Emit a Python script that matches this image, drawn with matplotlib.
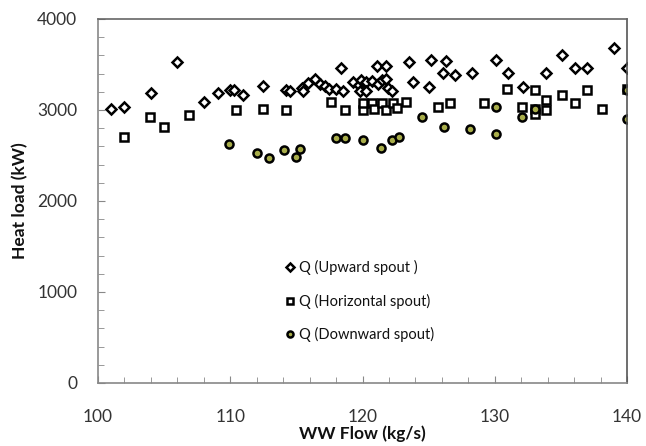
import matplotlib
matplotlib.use('Agg')
import matplotlib.pyplot as plt
from matplotlib.ticker import MultipleLocator

plt.rcParams['font.family'] = ['Lato', 'DejaVu Sans']

# Q (Upward spout)
up_x = [101.0, 102.0, 104.0, 106.0, 108.0, 109.1, 110.0, 110.3, 111.0, 112.5,
        114.2, 114.5, 115.4, 115.5, 115.9, 116.4, 116.8, 117.2, 117.5, 118.0,
        118.4, 118.5, 119.3, 119.7, 119.8, 119.9, 120.3, 120.3, 120.7, 121.1,
        121.2, 121.45, 121.8, 121.8, 121.95, 122.2, 123.5, 123.85, 125.0, 125.2,
        126.06, 126.3, 127.0, 128.3, 130.1, 131.0, 132.1, 133.9, 135.06, 136.07,
        137.0, 139.04, 140.0]
up_y = [3015, 3035, 3185, 3530, 3090, 3190, 3215, 3220, 3160, 3260,
        3220, 3210, 3240, 3210, 3295, 3339, 3284, 3265, 3236, 3236,
        3457, 3210, 3310, 3273, 3210, 3331, 3303, 3210, 3320, 3486,
        3284, 3331, 3339, 3486, 3247, 3210, 3530, 3310, 3258, 3552,
        3405, 3541, 3383, 3405, 3552, 3405, 3258, 3405, 3607, 3457,
        3457, 3677, 3457]

# Q (Horizontal spout)
hor_x = [102.0, 103.9, 105.0, 106.9, 110.4, 112.5, 114.2, 117.6, 118.7, 120.06,
         120.06, 120.7, 120.9, 121.45, 121.8, 122.3, 122.6, 123.3, 125.7, 126.6,
         129.2, 130.95, 132.03, 133.04, 133.04, 133.04, 133.9, 133.9, 135.06, 136.07,
         137.0, 138.1, 140.0]
hor_y = [2703, 2924, 2813, 2942, 3001, 3016, 3001, 3089, 3001, 3001,
         3082, 3075, 3016, 3082, 3001, 3082, 3027, 3089, 3038, 3082,
         3082, 3236, 3038, 3221, 3008, 2953, 3111, 3001, 3166, 3075,
         3221, 3016, 3236]

# Q (Downward spout)
down_x = [109.9, 112.0, 112.95, 114.07, 115.0, 115.3, 118.0, 118.7, 120.0, 121.4,
          122.25, 122.76, 124.5, 126.2, 128.1, 130.1, 130.1, 132.03, 133.04, 140.0,
          140.0]
down_y = [2623, 2531, 2476, 2557, 2487, 2568, 2697, 2697, 2670, 2586,
          2670, 2707, 2928, 2817, 2795, 2733, 3038, 2928, 3016, 3216,
          2898]

fig = plt.figure(figsize=(6.46, 4.46), dpi=100)
ax = fig.add_axes([0.1517, 0.1413, 0.8189, 0.8161])

mk = dict(linestyle='none', markeredgewidth=1.8, markeredgecolor='black')
ax.plot(up_x, up_y, marker='D', markersize=5.2, markerfacecolor='white',
        label='Q (Upward spout )', **mk)
ax.plot(hor_x, hor_y, marker='s', markersize=5.8, markerfacecolor='white',
        label='Q (Horizontal spout)', **mk)
ax.plot(down_x, down_y, marker='o', markersize=5.8, markerfacecolor='#a8ad4a',
        label='Q (Downward spout)', **mk)

ax.set_xlim(100, 140)
ax.set_ylim(0, 4000)
ax.xaxis.set_major_locator(MultipleLocator(10))
ax.xaxis.set_minor_locator(MultipleLocator(2))
ax.yaxis.set_major_locator(MultipleLocator(1000))
ax.yaxis.set_minor_locator(MultipleLocator(200))
ax.tick_params(which='both', direction='in', colors='#888888', labelcolor='#333333',
               labelsize=12.5)
ax.tick_params(axis='x', pad=19)
ax.tick_params(axis='y', pad=15)
ax.tick_params(which='major', length=5)
ax.tick_params(which='minor', length=4)
ax.tick_params(axis='x', which='both', top=False)
ax.tick_params(axis='y', which='both', right=False)
for s in ax.spines.values():
    s.set_color('#888888')
    s.set_linewidth(1.2)
ax.spines['top'].set_color('#666666')
ax.spines['right'].set_color('#555555')

ax.set_xlabel('WW Flow (kg/s)', fontsize=12.5, fontweight='bold', color='#111111', labelpad=0)
ax.set_ylabel('Heat load (kW)', fontsize=12.5, fontweight='bold', color='#111111', labelpad=6)

leg = ax.legend(loc='center', bbox_to_anchor=(0.495, 0.225), frameon=False, fontsize=10.5,
                markerscale=0.75, handlelength=0.6, handletextpad=0.3, labelspacing=1.25,
                labelcolor='#111111')

fig.savefig('out.png', dpi=100)
